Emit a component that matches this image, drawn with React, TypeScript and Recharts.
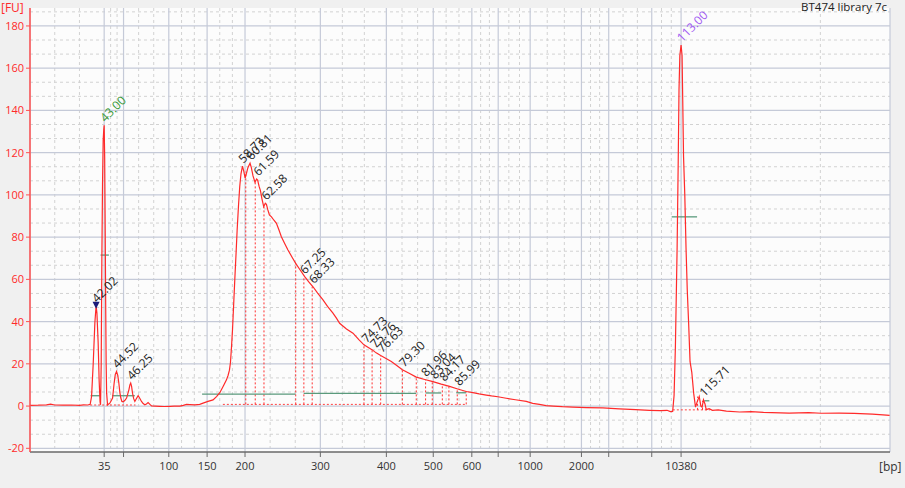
import React from 'react';
import {
  ComposedChart,
  Line,
  Scatter,
  XAxis,
  YAxis,
  CartesianGrid,
  ReferenceLine,
} from 'recharts';

// migration time (s) and fluorescence (FU)
const traceTime = [
  34.0, 35.0, 36.0, 36.5, 37.0, 38.0, 39.0, 40.0, 40.5, 41.0, 41.3,
  41.47, 41.67, 41.87, 42.02, 42.12, 42.27, 42.39, 42.5, 42.56,
  42.64, 42.72, 42.8, 42.88, 42.95, 43.0, 43.06, 43.12, 43.18, 43.24, 43.3, 43.41, 43.55,
  43.69, 43.85, 44.02, 44.21, 44.35, 44.5, 44.65, 44.78, 44.9, 45.02, 45.15, 45.3, 45.5,
  45.72, 46.0, 46.12, 46.22, 46.32, 46.44, 46.58, 46.72, 46.9, 47.12, 47.3, 47.53, 47.73,
  47.93, 48.13, 48.33, 48.55, 48.75, 49.2, 49.75, 50.3, 51.0, 51.5, 52.18, 52.6, 53.0,
  53.41, 54.0, 54.6, 55.0, 55.6, 56.21, 56.63, 57.03, 57.43, 57.84, 58.03, 58.2, 58.32,
  58.45, 58.57, 58.71, 58.85, 59.0, 59.13, 59.3, 59.45, 59.6, 59.78, 59.95, 60.1, 60.25,
  60.45, 60.7, 60.85, 61.06, 61.3, 61.5, 61.62, 61.8, 61.96, 62.15, 62.36, 62.55, 62.69,
  62.85, 63.05, 63.3, 63.6, 63.9, 64.2, 64.5, 64.9, 65.3, 65.8, 66.24, 66.8, 67.33, 67.8,
  68.34, 68.9, 69.55, 70.1, 70.76, 71.2, 71.57, 72.4, 73.19, 73.9, 74.52, 75.0, 75.54,
  76.0, 76.55, 77.2, 77.84, 78.5, 79.18, 80.0, 80.87, 81.9, 82.89, 83.9, 84.91, 85.9,
  86.93, 87.74, 88.5, 89.36, 90.0, 90.77, 91.78, 92.9, 94.21, 95.0, 95.8, 96.63, 97.5,
  98.6, 99.86, 101.5, 103.5, 105.5, 107.5, 109.16, 110.5, 111.3, 111.7, 111.98,
  112.15, 112.31, 112.52, 112.65, 112.75, 112.85, 113.0, 113.12, 113.2, 113.3, 113.45,
  113.6, 113.75, 113.92, 114.09, 114.3, 114.53, 114.75, 114.95, 115.2, 115.4, 115.55,
  115.72, 115.9, 116.05, 116.4, 116.8, 117.5, 118.5, 120.1, 121.5, 123.0, 126.1, 128.5,
  130.0, 132.2, 134.0, 136.2, 137.5, 138.3,
];
const traceFU = [
  0.3, 0.4, 0.6, 0.9, 0.5, 0.4, 0.5, 0.3, 0.6, 0.5, 0.8,
  4.5, 20, 39.4, 47.5, 44, 30, 12, 2, 0.6,
  20, 70, 105, 126, 131, 133, 118, 86, 50, 20, 6, 0.6, 1.0,
  1.4, 2.5, 3.8, 10.9, 15, 16.4, 14.5, 10.9, 6.5, 3.8, 2.2, 2.0, 2.6,
  3.8, 7.7, 10, 10.9, 9.5, 6.1, 3.5, 2.2, 3.5, 4.9, 3.8, 2.2, 1.2,
  0.6, 1.0, 1.7, 0.8, 0.1, 0.0, -0.1, -0.2, -0.1, 0.0, 0.0, 0.3, 0.8,
  0.7, 0.6, 0.8, 1.4, 2.2, 2.9, 4.5, 6.3, 9.3, 12.4, 14.5, 17, 20.5,
  28, 36, 48, 60, 72, 83, 95, 104, 110, 113.6, 111, 108, 110,
  113, 115, 113, 109, 106, 107.5, 107, 104, 102, 98, 94.4, 96, 95.5,
  93, 90.5, 89.6, 88, 86.5, 83.5, 80.2, 77, 73.9, 70.5, 67.6, 64.3, 61.3, 58.9,
  56.5, 53.5, 50.3, 47.2, 44, 41.5, 39.2, 36.5, 34.5, 31.5, 29, 27.9, 26.6,
  25.2, 23.9, 22.5, 21.1, 19.2, 17.2, 15.5, 13.7, 12.6, 11.6, 10.4, 9.3, 8.1,
  6.9, 6.4, 5.8, 5.2, 4.8, 4.4, 3.7, 3.0, 2.2, 1.3, 0.8, 0.2, 0.0,
  -0.3, -0.5, -0.7, -0.9, -1.3, -1.7, -2.0, -2.2, -2.0, -2.6, -2.5,
  5, 28, 75, 115, 150, 166, 171, 166, 145, 118, 100,
  75, 55, 39, 21, 16, 6, -0.5, 2, 4.5, 0, -0.5,
  3, 1, -1.7, -1.2, -2, -1.8, -2.4, -2.8, -2.6, -3.0, -3.3, -3.1,
  -3.4, -3.3, -3.5, -3.8, -4.2, -4.4,
];

// ladder: migration time of each size tick, and its label (blank = hidden)
const tickTimes = [43, 45.35, 50.84, 55.49, 60.09, 69.23, 77.24, 82.93, 87.61, 90.81, 94.69, 100.91, 104.22, 109.44, 113];
const tickLabels = ['35', '', '100', '150', '200', '300', '400', '500', '600', '', '1000', '2000', '', '', '10380'];
const yTicks = [-20, 0, 20, 40, 60, 80, 100, 120, 140, 160, 180];

// called peaks
const peakTimes = [42.02, 43.0, 44.5, 46.25, 59.78, 60.75, 61.6, 62.58, 67.25, 68.33, 74.73, 75.76, 76.63, 79.3, 81.96, 83.04, 84.17, 85.99, 113.0, 115.71];
const peakFU = [47.5, 133, 16.4, 10.9, 113.6, 115, 107.5, 96, 61, 56.5, 28.5, 26, 23.8, 17, 12.5, 11.3, 10.2, 8.1, 171, 3];
const peakNames = ['42.02', '43.00', '44.52', '46.25', '58.73', '60.81', '61.59', '62.58', '67.25', '68.33', '74.73', '75.76', '76.63', '79.30', '81.96', '83.04', '84.17', '85.99', '113.00', '115.71'];

// dotted peak boundaries
const boundTimes = [60.18, 61.33, 62.39, 66.24, 67.23, 68.24, 74.52, 75.51, 76.55, 79.18, 80.87, 82.0, 82.81, 84.03, 84.83, 85.84, 86.93, 115.0, 115.6];
const boundTops = [111, 107, 94.4, 67.6, 61.3, 56.5, 29, 26.6, 23.9, 17.2, 13.7, 12.5, 11.6, 10.2, 9.4, 8.3, 7.0, 4.5, 2.5];
const boundBase = [0.8, 0.8, 0.8, 0.8, 0.8, 0.8, 0.8, 0.8, 0.8, 0.8, 0.8, 0.8, 0.8, 0.8, 0.8, 0.8, 0.8, -1.8, -1.8];

// dotted baselines under peaks
const baseStart = [41.3, 43.7, 57.4, 112.0];
const baseEnd = [43.5, 46.8, 86.93, 116.5];
const baseFU = [0.5, 0.5, 0.8, -1.8];

// green region / width bars
const barStart = [41.35, 43.97, 54.88, 67.21, 82.0, 85.72, 42.56, 111.86, 115.82];
const barEnd = [42.56, 46.72, 66.2, 80.87, 83.9, 86.93, 43.57, 114.94, 116.43];
const barFU = [4.9, 4.9, 5.7, 6.0, 6.2, 6.3, 71.5, 89.6, 2.5];

const traceData = traceTime.map((t, i) => ({ t, fu: traceFU[i] }));
const peakData = peakTimes.map((t, i) => ({ t, fu: peakFU[i], name: peakNames[i] }));
const markerData = [{ t: peakTimes[0], fu: peakFU[0] }];

const X_MIN = 34;
const X_MAX = 138.35;
const Y_MIN = -21.75;
const Y_MAX = 188.5;

// minor grid: two dashed lines between each pair of majors
const xMajors = [X_MIN, ...tickTimes, X_MAX];
const xMinors: number[] = [];
for (let i = 0; i < xMajors.length - 1; i++) {
  const a = xMajors[i];
  const b = xMajors[i + 1];
  xMinors.push(a + (b - a) / 3, a + (2 * (b - a)) / 3);
}
const yMinors: number[] = [];
for (let v = -20; v <= 180; v += 20) {
  yMinors.push(v + 20 / 3, v + 40 / 3);
}

const labelColor = (name: string) => {
  if (name === '43.00') return '#3a9a3a';
  if (name === '113.00') return '#a25cf2';
  return '#1e1e1e';
};

const PeakLabel = (props: any) => {
  const { cx, cy, payload } = props;
  if (cx == null || cy == null) return null;
  const x = cx + 1;
  const y = cy - 2.5;
  return (
    <text
      x={x}
      y={y}
      transform={`rotate(-45 ${x} ${y})`}
      fontSize={12}
      fontFamily="Open Sans"
      fill={labelColor(payload.name)}
    >
      {payload.name}
    </text>
  );
};

const Triangle = (props: any) => {
  const { cx, cy } = props;
  if (cx == null || cy == null) return null;
  return <polygon points={`${cx - 3.5},${cy - 4} ${cx + 3.5},${cy - 4} ${cx},${cy + 3}`} fill="#1c1c7a" />;
};

export default function App() {
  return (
    <div
      style={{
        position: 'absolute',
        left: 0,
        top: 0,
        width: 905,
        height: 488,
        background: '#f0f0f0',
        fontFamily: 'Open Sans',
        overflow: 'hidden',
      }}
    >
      <ComposedChart width={905} height={488} margin={{ top: 8, right: 15, bottom: 0, left: 0 }}>
        <CartesianGrid
          fill="#fcfcfc"
          stroke="#d2d2d2"
          strokeDasharray="3 3"
          verticalValues={xMinors}
          horizontalValues={yMinors}
        />
        <CartesianGrid
          stroke="#c5cad8"
          strokeWidth={1.2}
          verticalValues={xMajors}
          horizontalValues={yTicks}
        />
        <XAxis
          type="number"
          dataKey="t"
          domain={[X_MIN, X_MAX]}
          allowDataOverflow
          ticks={tickTimes}
          interval={0}
          tickFormatter={(v: number) => tickLabels[tickTimes.indexOf(v)] ?? ''}
          height={36}
          tickSize={5}
          tickMargin={5}
          stroke="#6a6a6a"
          axisLine={{ stroke: '#6a6a6a', strokeWidth: 1.5 }}
          tickLine={{ stroke: '#6a6a6a' }}
          tick={{ fontSize: 11, fill: '#333', fontFamily: 'Open Sans' }}
        />
        <YAxis
          type="number"
          domain={[Y_MIN, Y_MAX]}
          allowDataOverflow
          ticks={yTicks}
          interval={0}
          width={30}
          tickSize={4}
          tickMargin={2}
          axisLine={{ stroke: '#ff5050', strokeWidth: 1.5 }}
          tickLine={{ stroke: '#ff5050' }}
          tick={{ fontSize: 11, fill: '#ff2a2a', fontFamily: 'Open Sans' }}
        />

        {baseStart.map((s, i) => (
          <ReferenceLine
            key={`base-${i}`}
            segment={[{ x: s, y: baseFU[i] }, { x: baseEnd[i], y: baseFU[i] }]}
            stroke="#ff4040"
            strokeDasharray="2 2"
            strokeWidth={1}
          />
        ))}
        {boundTimes.map((t, i) => (
          <ReferenceLine
            key={`bound-${i}`}
            segment={[{ x: t, y: boundBase[i] }, { x: t, y: boundTops[i] }]}
            stroke="#ff3030"
            strokeDasharray="2 2"
            strokeWidth={1}
          />
        ))}
        {barStart.map((s, i) => (
          <ReferenceLine
            key={`bar-${i}`}
            segment={[{ x: s, y: barFU[i] }, { x: barEnd[i], y: barFU[i] }]}
            stroke="#5a9a7c"
            strokeWidth={1.3}
          />
        ))}

        <Line
          data={traceData}
          dataKey="fu"
          type="linear"
          stroke="#ff2a2a"
          strokeWidth={1.2}
          dot={false}
          activeDot={false}
          isAnimationActive={false}
        />
        <Scatter data={markerData} dataKey="fu" shape={<Triangle />} isAnimationActive={false} />
        <Scatter data={peakData} dataKey="fu" shape={<PeakLabel />} isAnimationActive={false} />
      </ComposedChart>

      <div style={{ position: 'absolute', left: 1, top: -1, fontSize: 12, color: '#ff2a2a', zIndex: 2 }}>[FU]</div>
      <div style={{ position: 'absolute', right: 18, top: -1, fontSize: 11.5, color: '#222', zIndex: 2 }}>
        BT474 library 7c
      </div>
      <div style={{ position: 'absolute', left: 879, top: 458, fontSize: 12, color: '#333', zIndex: 2 }}>[bp]</div>
    </div>
  );
}
